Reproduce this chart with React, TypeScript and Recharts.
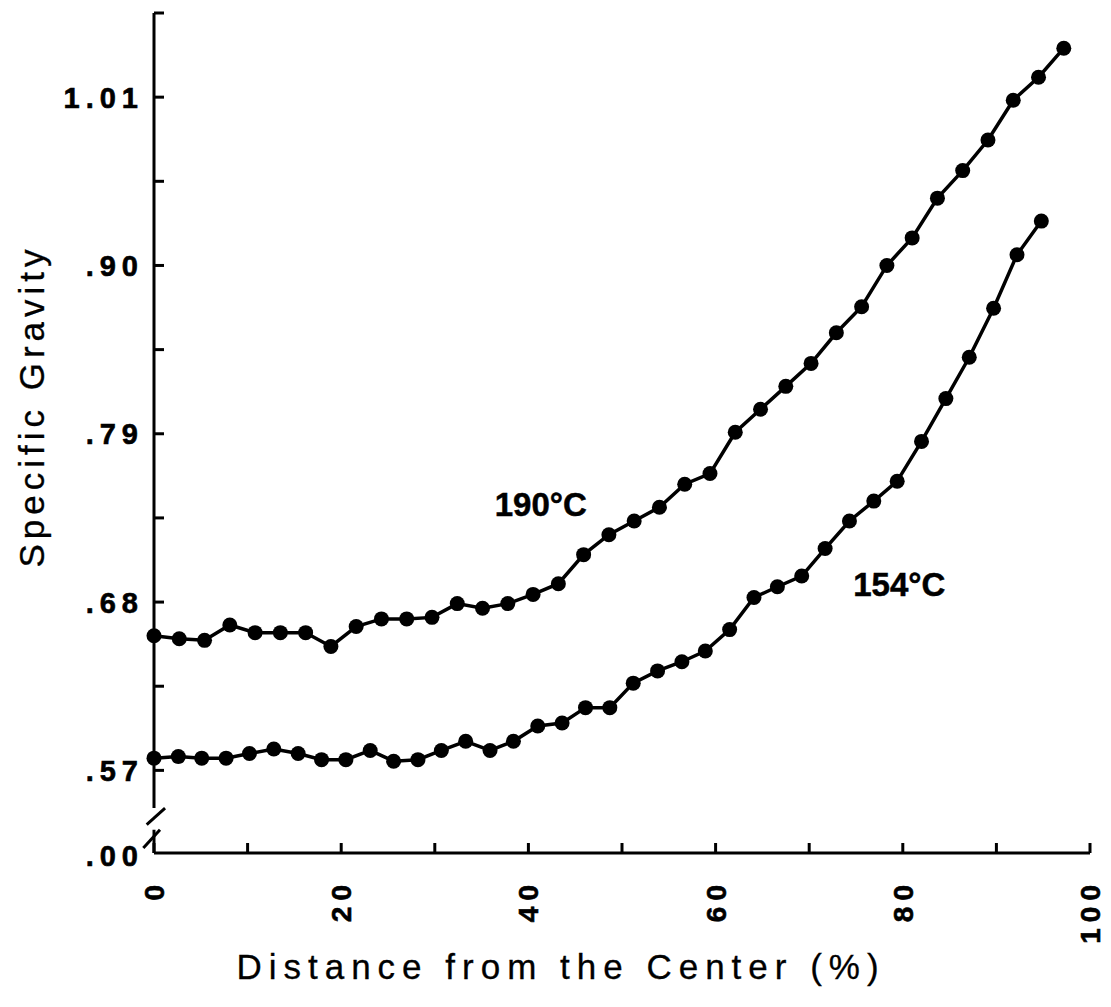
import React from "react";
import { LineChart, Line, XAxis, YAxis, ReferenceLine, ReferenceDot, Label } from "recharts";

// Specific gravity across the board, sampled from the center outwards.
const dist190 = [
  0, 2.7, 5.4, 8.1, 10.8, 13.5, 16.2, 18.9, 21.6, 24.3, 27.0, 29.7, 32.4,
  35.1, 37.8, 40.5, 43.2, 45.9, 48.6, 51.3, 54.0, 56.7, 59.4, 62.1, 64.8,
  67.5, 70.2, 72.9, 75.6, 78.3, 81.0, 83.7, 86.4, 89.1, 91.8, 94.5, 97.2,
];
const sg190 = [
  0.658, 0.656, 0.655, 0.665, 0.66, 0.66, 0.66, 0.651, 0.664, 0.669, 0.669,
  0.67, 0.679, 0.676, 0.679, 0.685, 0.692, 0.711, 0.724, 0.733, 0.742, 0.757,
  0.764, 0.791, 0.806, 0.821, 0.836, 0.856, 0.873, 0.9, 0.918, 0.944, 0.962,
  0.982, 1.008, 1.023, 1.042,
];
const dist154 = [
  0, 2.6, 5.1, 7.7, 10.2, 12.8, 15.4, 17.9, 20.5, 23.1, 25.6, 28.2, 30.7,
  33.3, 35.9, 38.4, 41.0, 43.6, 46.1, 48.7, 51.2, 53.8, 56.4, 58.9, 61.5,
  64.1, 66.6, 69.2, 71.7, 74.3, 76.9, 79.4, 82.0, 84.6, 87.1, 89.7, 92.2, 94.8,
];
const sg154 = [
  0.578, 0.579, 0.578, 0.578, 0.581, 0.584, 0.581, 0.577, 0.577, 0.583,
  0.576, 0.577, 0.583, 0.589, 0.583, 0.589, 0.599, 0.601, 0.611, 0.611,
  0.627, 0.635, 0.641, 0.648, 0.662, 0.683, 0.69, 0.697, 0.715, 0.733,
  0.746, 0.759, 0.785, 0.813, 0.84, 0.872, 0.907, 0.929,
];

const xTicks = [0, 10, 20, 30, 40, 50, 60, 70, 80, 90, 100];
const xTickLabels = ["0", "", "20", "", "40", "", "60", "", "80", "", "100"];
// bottom tick is the broken-axis floor, printed as .00
const yTicks = [0.516, 0.57, 0.625, 0.68, 0.735, 0.79, 0.845, 0.9, 0.955, 1.01, 1.065];
const yTickLabels = [".00", ".57", "", ".68", "", ".79", "", ".90", "", "1.01", ""];

const series190 = dist190.map((x, i) => ({ x, y: sg190[i] }));
const series154 = dist154.map((x, i) => ({ x, y: sg154[i] }));

const FONT = "'Liberation Sans', Arial, sans-serif";
const INK = "#000";

function YTick(props: any) {
  const { x, y, payload } = props;
  const i = yTicks.indexOf(payload.value);
  const label = yTickLabels[i];
  return (
    <g>
      {i > 0 && <line x1={x} x2={x + 10} y1={y} y2={y} stroke={INK} strokeWidth={3} />}
      {label && (
        <text
          x={x - 10}
          y={i === 0 ? y + 3 : y}
          dy="0.36em"
          textAnchor="end"
          fontFamily={FONT}
          fontWeight="bold"
          fontSize={29}
          letterSpacing={6}
          fill={INK}
          stroke={INK}
          strokeWidth={0.6}
        >
          {label}
        </text>
      )}
    </g>
  );
}

function XTick(props: any) {
  const { x, y, payload } = props;
  const label = xTickLabels[xTicks.indexOf(payload.value)];
  const bx = x + 10;
  const by = y + 26;
  return (
    <g>
      <line x1={x} x2={x} y1={y} y2={y - 10} stroke={INK} strokeWidth={3} />
      {label && (
        <text
          x={bx}
          y={by}
          transform={`rotate(-90, ${bx}, ${by})`}
          textAnchor="end"
          fontFamily={FONT}
          fontWeight="bold"
          fontSize={28}
          letterSpacing={6}
          fill={INK}
          stroke={INK}
          strokeWidth={0.6}
        >
          {label}
        </text>
      )}
    </g>
  );
}

// axis break drawn in data units on the y axis
const axisBreak = [
  [{ x: 0, y: 0.5454 }, { x: 0, y: 1.065 }],
  [{ x: -0.78, y: 0.5345 }, { x: 1.18, y: 0.5454 }],
  [{ x: -1.14, y: 0.5193 }, { x: 0.64, y: 0.5312 }],
  [{ x: 0, y: 0.516 }, { x: 0, y: 0.5312 }],
];

const seriesLabel = {
  position: "right" as const,
  offset: 0,
  fontSize: 33,
  fontWeight: "bold",
  fontFamily: FONT,
  fill: INK,
  stroke: INK,
  strokeWidth: 0.5,
};

export default function App() {
  return (
    <div style={{ position: "absolute", left: 0, top: 0, width: 1111, height: 1007, background: "#fff" }}>
      <LineChart width={1111} height={1007} margin={{ top: 13, right: 21, bottom: 0, left: 0 }}>
        <XAxis
          type="number"
          dataKey="x"
          domain={[0, 100]}
          ticks={xTicks}
          interval={0}
          height={154}
          tickSize={0}
          tickMargin={0}
          tickLine={false}
          axisLine={{ stroke: INK, strokeWidth: 3 }}
          tick={<XTick />}
        >
          <Label
            content={() => (
              <text
                x={561}
                y={979}
                textAnchor="middle"
                fontFamily={FONT}
                fontSize={35}
                letterSpacing={7}
                fill={INK}
                stroke={INK}
                strokeWidth={0.3}
              >
                Distance from the Center (%)
              </text>
            )}
          />
        </XAxis>
        <YAxis
          type="number"
          dataKey="y"
          domain={[0.516, 1.065]}
          ticks={yTicks}
          interval={0}
          width={154}
          tickSize={0}
          tickMargin={0}
          tickLine={false}
          axisLine={false}
          tick={<YTick />}
        >
          <Label
            content={() => (
              <text
                x={44}
                y={406}
                transform="rotate(-90, 44, 406)"
                textAnchor="middle"
                fontFamily={FONT}
                fontSize={35}
                letterSpacing={5}
                fill={INK}
                stroke={INK}
                strokeWidth={0.3}
              >
                Specific Gravity
              </text>
            )}
          />
        </YAxis>
        {axisBreak.map((seg, i) => (
          <ReferenceLine key={i} segment={seg} ifOverflow="visible" stroke={INK} strokeWidth={3} />
        ))}
        <Line
          data={series190}
          dataKey="y"
          type="linear"
          stroke={INK}
          strokeWidth={3.5}
          dot={{ r: 7.5, fill: INK, stroke: INK, strokeWidth: 0 }}
          isAnimationActive={false}
        />
        <Line
          data={series154}
          dataKey="y"
          type="linear"
          stroke={INK}
          strokeWidth={3.5}
          dot={{ r: 7.5, fill: INK, stroke: INK, strokeWidth: 0 }}
          isAnimationActive={false}
        />
        <ReferenceDot x={36.4} y={0.7437} r={0} label={{ value: "190°C", ...seriesLabel }} />
        <ReferenceDot x={74.7} y={0.6914} r={0} label={{ value: "154°C", ...seriesLabel }} />
      </LineChart>
    </div>
  );
}
